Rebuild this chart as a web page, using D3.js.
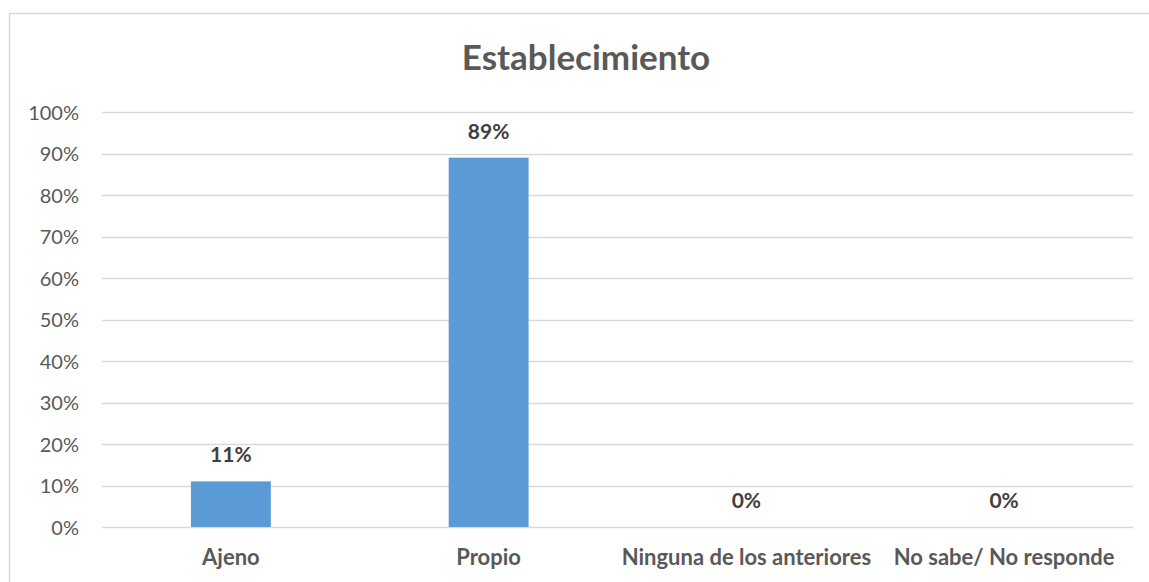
<!DOCTYPE html>
<html><head><meta charset="utf-8">
<script src="https://cdn.jsdelivr.net/npm/d3@7"></script>
<style>body{margin:0;background:#fff;}svg{display:block;}</style>
</head><body>
<svg id="c" width="1149" height="582"></svg>
<script>
const title = "Establecimiento";
const categories = ["Ajeno", "Propio", "Ninguna de los anteriores", "No sabe/ No responde"];
const values = [0.11, 0.89, 0, 0];
const valueLabels = ["11%", "89%", "0%", "0%"];
const yTicks = [0, 0.1, 0.2, 0.3, 0.4, 0.5, 0.6, 0.7, 0.8, 0.9, 1.0];

const svg = d3.select("#c");
const FONT = "Lato, 'Open Sans', sans-serif";

// chart border
svg.append("rect").attr("x", 9.5).attr("y", 13.5).attr("width", 1160).attr("height", 600)
  .attr("fill", "#fff").attr("stroke", "#d9d9d9").attr("stroke-width", 1.5);

const x = d3.scaleBand().domain(categories).range([102, 1133]).paddingInner(0.69).paddingOuter(0.345);
const y = d3.scaleLinear().domain([0, 1]).range([527, 112]);

// gridlines
svg.append("g").selectAll("line").data(yTicks).join("line")
  .attr("x1", 102).attr("x2", 1133)
  .attr("y1", d => Math.round(y(d)) + 0.5).attr("y2", d => Math.round(y(d)) + 0.5)
  .attr("stroke", "#d9d9d9").attr("stroke-width", 1.3);

// y axis labels
const yAxis = d3.axisLeft(y).tickValues(yTicks).tickFormat(d3.format(".0%")).tickSize(0).tickPadding(0);
const yg = svg.append("g").attr("transform", "translate(79,0)").call(yAxis);
yg.select(".domain").remove();
yg.selectAll("text").attr("font-family", FONT).attr("font-size", 20).attr("fill", "#595959").attr("dy", "0.35em");

// bars
svg.append("g").selectAll("rect").data(values).join("rect")
  .attr("x", (d, i) => x(categories[i]))
  .attr("width", x.bandwidth())
  .attr("y", d => y(d))
  .attr("height", d => y(0) - y(d))
  .attr("fill", "#5b9bd5");

// value labels
svg.append("g").selectAll("text").data(values).join("text")
  .attr("x", (d, i) => x(categories[i]) + x.bandwidth() / 2)
  .attr("y", d => y(d) - 19)
  .attr("text-anchor", "middle")
  .attr("font-family", FONT).attr("font-weight", "bold").attr("font-size", 21).attr("fill", "#404040")
  .text((d, i) => valueLabels[i]);

// x axis labels
const xAxis = d3.axisBottom(x).tickSize(0).tickPadding(0);
const xg = svg.append("g").attr("transform", "translate(0,551)").call(xAxis);
xg.select(".domain").remove();
xg.selectAll("text").attr("font-family", FONT).attr("font-weight", "bold").attr("font-size", 22).attr("fill", "#595959")
  .attr("dy", null).attr("y", 14);

// title
svg.append("text").attr("x", 586).attr("y", 70).attr("text-anchor", "middle")
  .attr("font-family", FONT).attr("font-weight", "bold").attr("font-size", 35).attr("fill", "#595959")
  .text(title);
</script>
</body></html>
